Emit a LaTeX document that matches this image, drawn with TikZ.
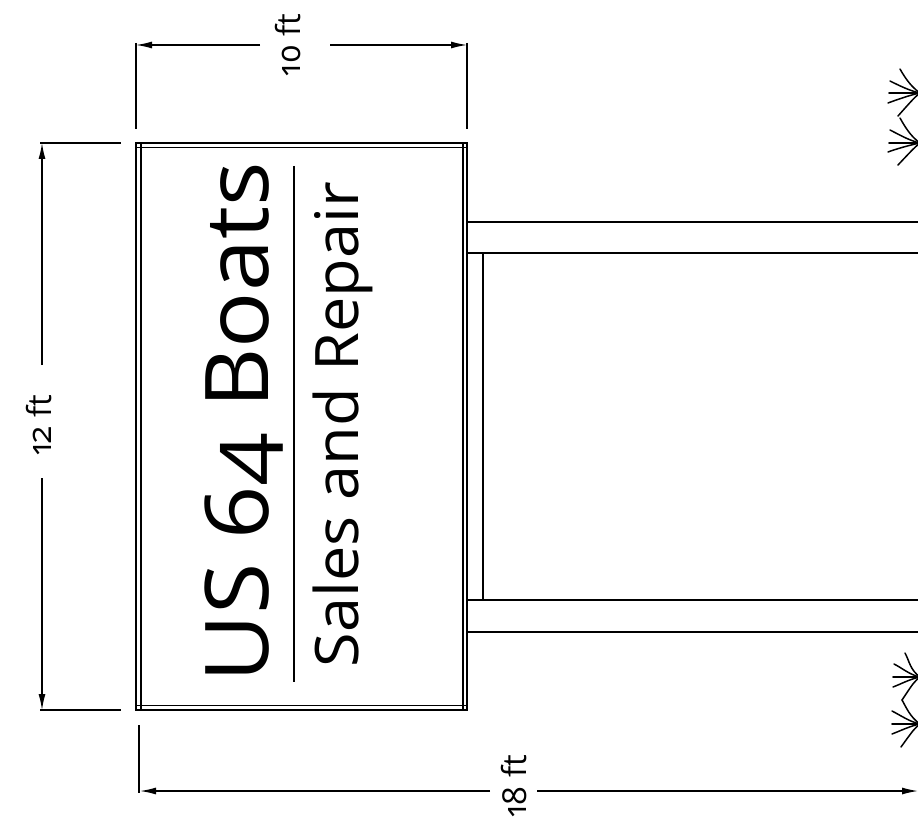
\documentclass[tikz,border=0pt]{standalone}
\usepackage{fontspec}
\setmainfont[Numbers=OldStyle]{Open Sans}
\usetikzlibrary{arrows.meta}
\tikzset{
  ln/.style={line width=1.5pt,black},
  thin ln/.style={line width=1.3pt,black},
  dimln/.style={line width=1.3pt,black,-{Latex[length=16pt,width=7pt]}},
  blade/.style={line width=1.5pt,black,line cap=round},
  dimtext/.style={inner sep=0pt,rotate=90,font=\fontsize{33}{33}\selectfont},
}
\begin{document}
\begin{tikzpicture}[x=1pt,y=-1pt]
\useasboundingbox (0,0) rectangle (918,829);
% sign
\draw[line width=1.6pt] (136,143) rectangle (467,710);
\draw[thin ln] (141,147.5) rectangle (463,705.5);
\draw[thin ln] (136,147.5) -- (141,147.5) (463,147.5) -- (467,147.5) (136,705.5) -- (141,705.5) (463,705.5) -- (467,705.5);
\draw[thin ln] (141,143) -- (141,147.5) (463,143) -- (463,147.5) (141,705.5) -- (141,710) (463,705.5) -- (463,710);
\draw[line width=1.3pt] (294,166) -- (294,682);
\node[rotate=90,inner sep=0pt,anchor=base,font=\fontsize{88}{88}\selectfont] (title) at (268.5,422.5) {\scalebox{1.06}[1]{US 64 Boats}};
\node[rotate=90,inner sep=0pt,anchor=base,font=\fontsize{60}{60}\selectfont] (sub) at (358,424.5) {\scalebox{1.05}[1]{Sales and Repair}};
% posts
\draw[ln] (468,222) -- (918,222) (468,253) -- (918,253) (468,600) -- (918,600) (468,632) -- (918,632);
\draw[ln] (483,253) -- (483,600);
% dimensions
\node[dimtext] (w) at (288,45) {10 ft};
\node[dimtext] (h) at (39,425) {12 ft};
\node[dimtext] (d) at (514,786) {18 ft};
\coordinate (wl) at (136,45); \coordinate (wr) at (467,45);
\coordinate (hl) at (42,143); \coordinate (hr) at (42,710);
\coordinate (dl) at (140,791); \coordinate (dr) at (918,791);
\draw[dimln] (260,45) -- (wl);
\draw[dimln] (330,45) -- (wr);
\draw[dimln] (42,365) -- (hl);
\draw[dimln] (42,478) -- (hr);
\draw[dimln] (490,791) -- (dl);
\draw[dimln] (537,791) -- (dr);
% extension lines
\draw[thin ln] (136,43) -- (136,129) (467,43) -- (467,129);
\draw[thin ln] (40,143) -- (121,143) (40,710) -- (121,710);
\draw[thin ln] (139,725) -- (139,793);
% grass
\foreach \cx/\cy/\a/\b/\c/\d/\e/\f/\g/\h/\i/\j in {
 920/93/900/69/890/81/889/93/888/103/898/116,
 920/143/900/118/890/130/889/143/888/152/898/165,
 920/677/905/653/894/664/893/677/893/687/902/700,
 920/724/902/700/892/711/892/724/892/734/901/747}{
  \draw[blade] (\cx,\cy) .. controls (\cx-10,\cy-7) and (\a+4,\b+7) .. (\a,\b);
  \draw[blade] (\cx,\cy) .. controls (\cx-10,\cy-2) and (\c+8,\d+4) .. (\c,\d);
  \draw[blade,line width=2pt] (\cx,\cy) -- (\e,\f);
  \draw[blade] (\cx,\cy) .. controls (\cx-10,\cy+2) and (\g+8,\h-3) .. (\g,\h);
  \draw[blade] (\cx,\cy) .. controls (\cx-6,\cy+5) .. (\i,\j);
}
\end{tikzpicture}
\end{document}
